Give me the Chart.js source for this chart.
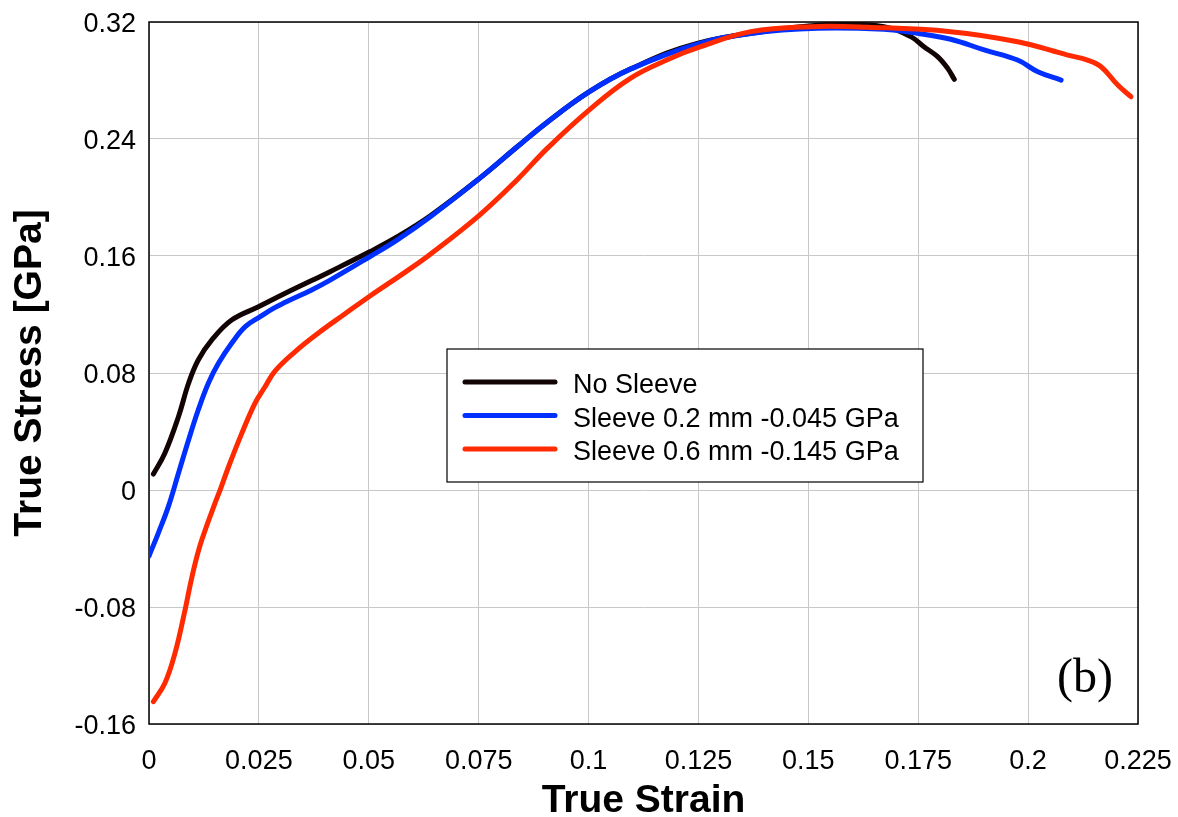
<!DOCTYPE html>
<html lang="en">
<head>
	<meta charset="UTF-8">
	<title>True Stress vs True Strain</title>
	<script src="https://cdn.jsdelivr.net/npm/chart.js"></script>
	<style>
		html, body { margin: 0; padding: 0; background: white; }
		#chartContainer { width: 1178px; height: 817px; }
	</style>
</head>
<body>
	<div id="chartContainer">
		<canvas id="myChart"></canvas>
	</div>
	<script>
		// values: strain (x) and stress in GPa (y)
		const strainNoSleeve = [0.001, 0.0036, 0.0067, 0.009, 0.0112, 0.0143, 0.0188, 0.0249, 0.031, 0.037, 0.0412, 0.0502, 0.0564, 0.064, 0.0752, 0.0837, 0.0906, 0.1001, 0.1095, 0.1247, 0.143, 0.152, 0.158, 0.1672, 0.1733, 0.1763, 0.1794, 0.1817, 0.1832];
		const stressNoSleeve = [0.0109, 0.0251, 0.0501, 0.073, 0.0889, 0.1026, 0.1162, 0.1253, 0.1345, 0.1432, 0.1493, 0.1629, 0.173, 0.1875, 0.2131, 0.2345, 0.2515, 0.2722, 0.2878, 0.3054, 0.3148, 0.3178, 0.3185, 0.3168, 0.31, 0.3031, 0.2963, 0.2883, 0.2808];

		const strainSleeve02 = [0, 0.0021, 0.0044, 0.0067, 0.009, 0.0112, 0.0135, 0.0158, 0.0188, 0.0219, 0.0253, 0.0283, 0.031, 0.037, 0.0412, 0.0502, 0.0564, 0.064, 0.0752, 0.0837, 0.0906, 0.1001, 0.1095, 0.1247, 0.1369, 0.152, 0.1672, 0.1748, 0.1824, 0.19, 0.1976, 0.2022, 0.2075];
		const stressSleeve02 = [-0.0451, -0.0296, -0.0114, 0.0114, 0.0342, 0.0547, 0.073, 0.0866, 0.1003, 0.1117, 0.1185, 0.1242, 0.1283, 0.1368, 0.1435, 0.1595, 0.1709, 0.1869, 0.2131, 0.2345, 0.2515, 0.2722, 0.2878, 0.3048, 0.3122, 0.3157, 0.315, 0.3123, 0.3082, 0.3009, 0.294, 0.286, 0.2803];

		const strainSleeve06 = [0.001, 0.0036, 0.0059, 0.0082, 0.0093, 0.0105, 0.012, 0.015, 0.0163, 0.0181, 0.0211, 0.0241, 0.0264, 0.0287, 0.0332, 0.0386, 0.0446, 0.0502, 0.0583, 0.064, 0.0752, 0.0837, 0.0906, 0.1001, 0.1095, 0.1187, 0.1255, 0.1369, 0.1505, 0.1634, 0.1824, 0.1976, 0.209, 0.2135, 0.2166, 0.2204, 0.2234];
		const stressSleeve06 = [-0.1447, -0.1322, -0.1117, -0.082, -0.066, -0.0501, -0.0342, -0.0091, 0.001, 0.0159, 0.0387, 0.0593, 0.0706, 0.0815, 0.0945, 0.1075, 0.1205, 0.1325, 0.149, 0.1612, 0.188, 0.212, 0.2336, 0.2598, 0.2815, 0.2952, 0.3031, 0.3134, 0.3168, 0.3164, 0.3134, 0.3065, 0.2974, 0.294, 0.2894, 0.2769, 0.2689];

		const seriesLabels = ['No Sleeve', 'Sleeve 0.2 mm -0.045 GPa', 'Sleeve 0.6 mm -0.145 GPa'];
		const xTicks = [0, 0.025, 0.05, 0.075, 0.1, 0.125, 0.15, 0.175, 0.2, 0.225];
		const yTicks = [-0.16, -0.08, 0, 0.08, 0.16, 0.24, 0.32];

		const font = "'Liberation Sans', Arial, sans-serif";
		const pairs = (xs, ys) => xs.map((x, i) => ({ x: x, y: ys[i] }));
		const fmt = v => String(parseFloat(v.toFixed(3)));

		// frame round the plot area and the legend box inside it
		const framePlugin = {
			id: 'frame',
			beforeDatasetsDraw(chart) {
				const { ctx, chartArea: a } = chart;
				ctx.save();
				ctx.strokeStyle = '#000';
				ctx.lineWidth = 1.5;
				ctx.strokeRect(a.left, a.top, a.right - a.left, a.bottom - a.top);
				ctx.restore();
			},
			afterDraw(chart) {
				const ctx = chart.ctx;
				ctx.save();
				ctx.fillStyle = '#fff';
				ctx.fillRect(447, 349, 476, 133);
				ctx.strokeStyle = '#000';
				ctx.lineWidth = 1.2;
				ctx.strokeRect(447, 349, 476, 133);
				ctx.font = '27px ' + font;
				ctx.textBaseline = 'alphabetic';
				chart.data.datasets.forEach((ds, i) => {
					const y = 382 + i * 33.5;
					ctx.strokeStyle = ds.borderColor;
					ctx.lineWidth = 5;
					ctx.lineCap = 'round';
					ctx.beginPath();
					ctx.moveTo(465, y);
					ctx.lineTo(555, y);
					ctx.stroke();
					ctx.fillStyle = '#000';
					ctx.fillText(ds.label, 573, y + 11);
				});
				ctx.font = "48px 'Liberation Serif', 'Times New Roman', serif";
				ctx.textAlign = 'right';
				ctx.fillText('(b)', 1113, 692);
				ctx.restore();
			}
		};

		window.onload = function () {
			const ctx = document.getElementById('myChart').getContext('2d');
			new Chart(ctx, {
				type: 'scatter',
				data: {
					datasets: [
						{ label: seriesLabels[0], data: pairs(strainNoSleeve, stressNoSleeve), borderColor: '#120404', order: 2 },
						{ label: seriesLabels[1], data: pairs(strainSleeve02, stressSleeve02), borderColor: '#0030ff', order: 1 },
						{ label: seriesLabels[2], data: pairs(strainSleeve06, stressSleeve06), borderColor: '#ff2a00', order: 0 }
					]
				},
				options: {
					responsive: true,
					maintainAspectRatio: false,
					animation: false,
					showLine: true,
					datasets: {
						scatter: {
							pointRadius: 0,
							borderWidth: 5,
							borderCapStyle: 'round',
							borderJoinStyle: 'round',
							tension: 0.4
						}
					},
					layout: { padding: { left: 0, top: 22, right: 40, bottom: 0 } },
					plugins: { legend: { display: false }, tooltip: { enabled: false } },
					scales: {
						x: {
							type: 'linear',
							min: 0,
							max: 0.225,
							afterBuildTicks: s => { s.ticks = xTicks.map(v => ({ value: v })); },
							afterFit: s => { s.height = 93; s.paddingLeft = 0; s.paddingRight = 0; },
							grid: { color: '#c8c8c8', lineWidth: 1, drawTicks: false },
							border: { display: false },
							ticks: { padding: 21, maxRotation: 0, autoSkip: false, color: '#000', font: { family: font, size: 27 }, callback: fmt },
							title: { display: true, text: 'True Strain', color: '#000', padding: 0, font: { family: font, size: 39, weight: 'bold', lineHeight: 0.8 } }
						},
						y: {
							type: 'linear',
							min: -0.16,
							max: 0.32,
							afterBuildTicks: s => { s.ticks = yTicks.map(v => ({ value: v })); },
							afterFit: s => { s.width = 149; s.paddingTop = 0; s.paddingBottom = 0; },
							grid: { color: '#c8c8c8', lineWidth: 1, drawTicks: false },
							border: { display: false },
							ticks: { padding: 13, labelOffset: 3, autoSkip: false, color: '#000', font: { family: font, size: 27 }, callback: fmt },
							title: { display: true, text: 'True Stress [GPa]', color: '#000', padding: { top: 15, bottom: 0 }, font: { family: font, size: 39, weight: 'bold', lineHeight: 0.8 } }
						}
					}
				},
				plugins: [framePlugin]
			});
		};
	</script>
</body>
</html>
